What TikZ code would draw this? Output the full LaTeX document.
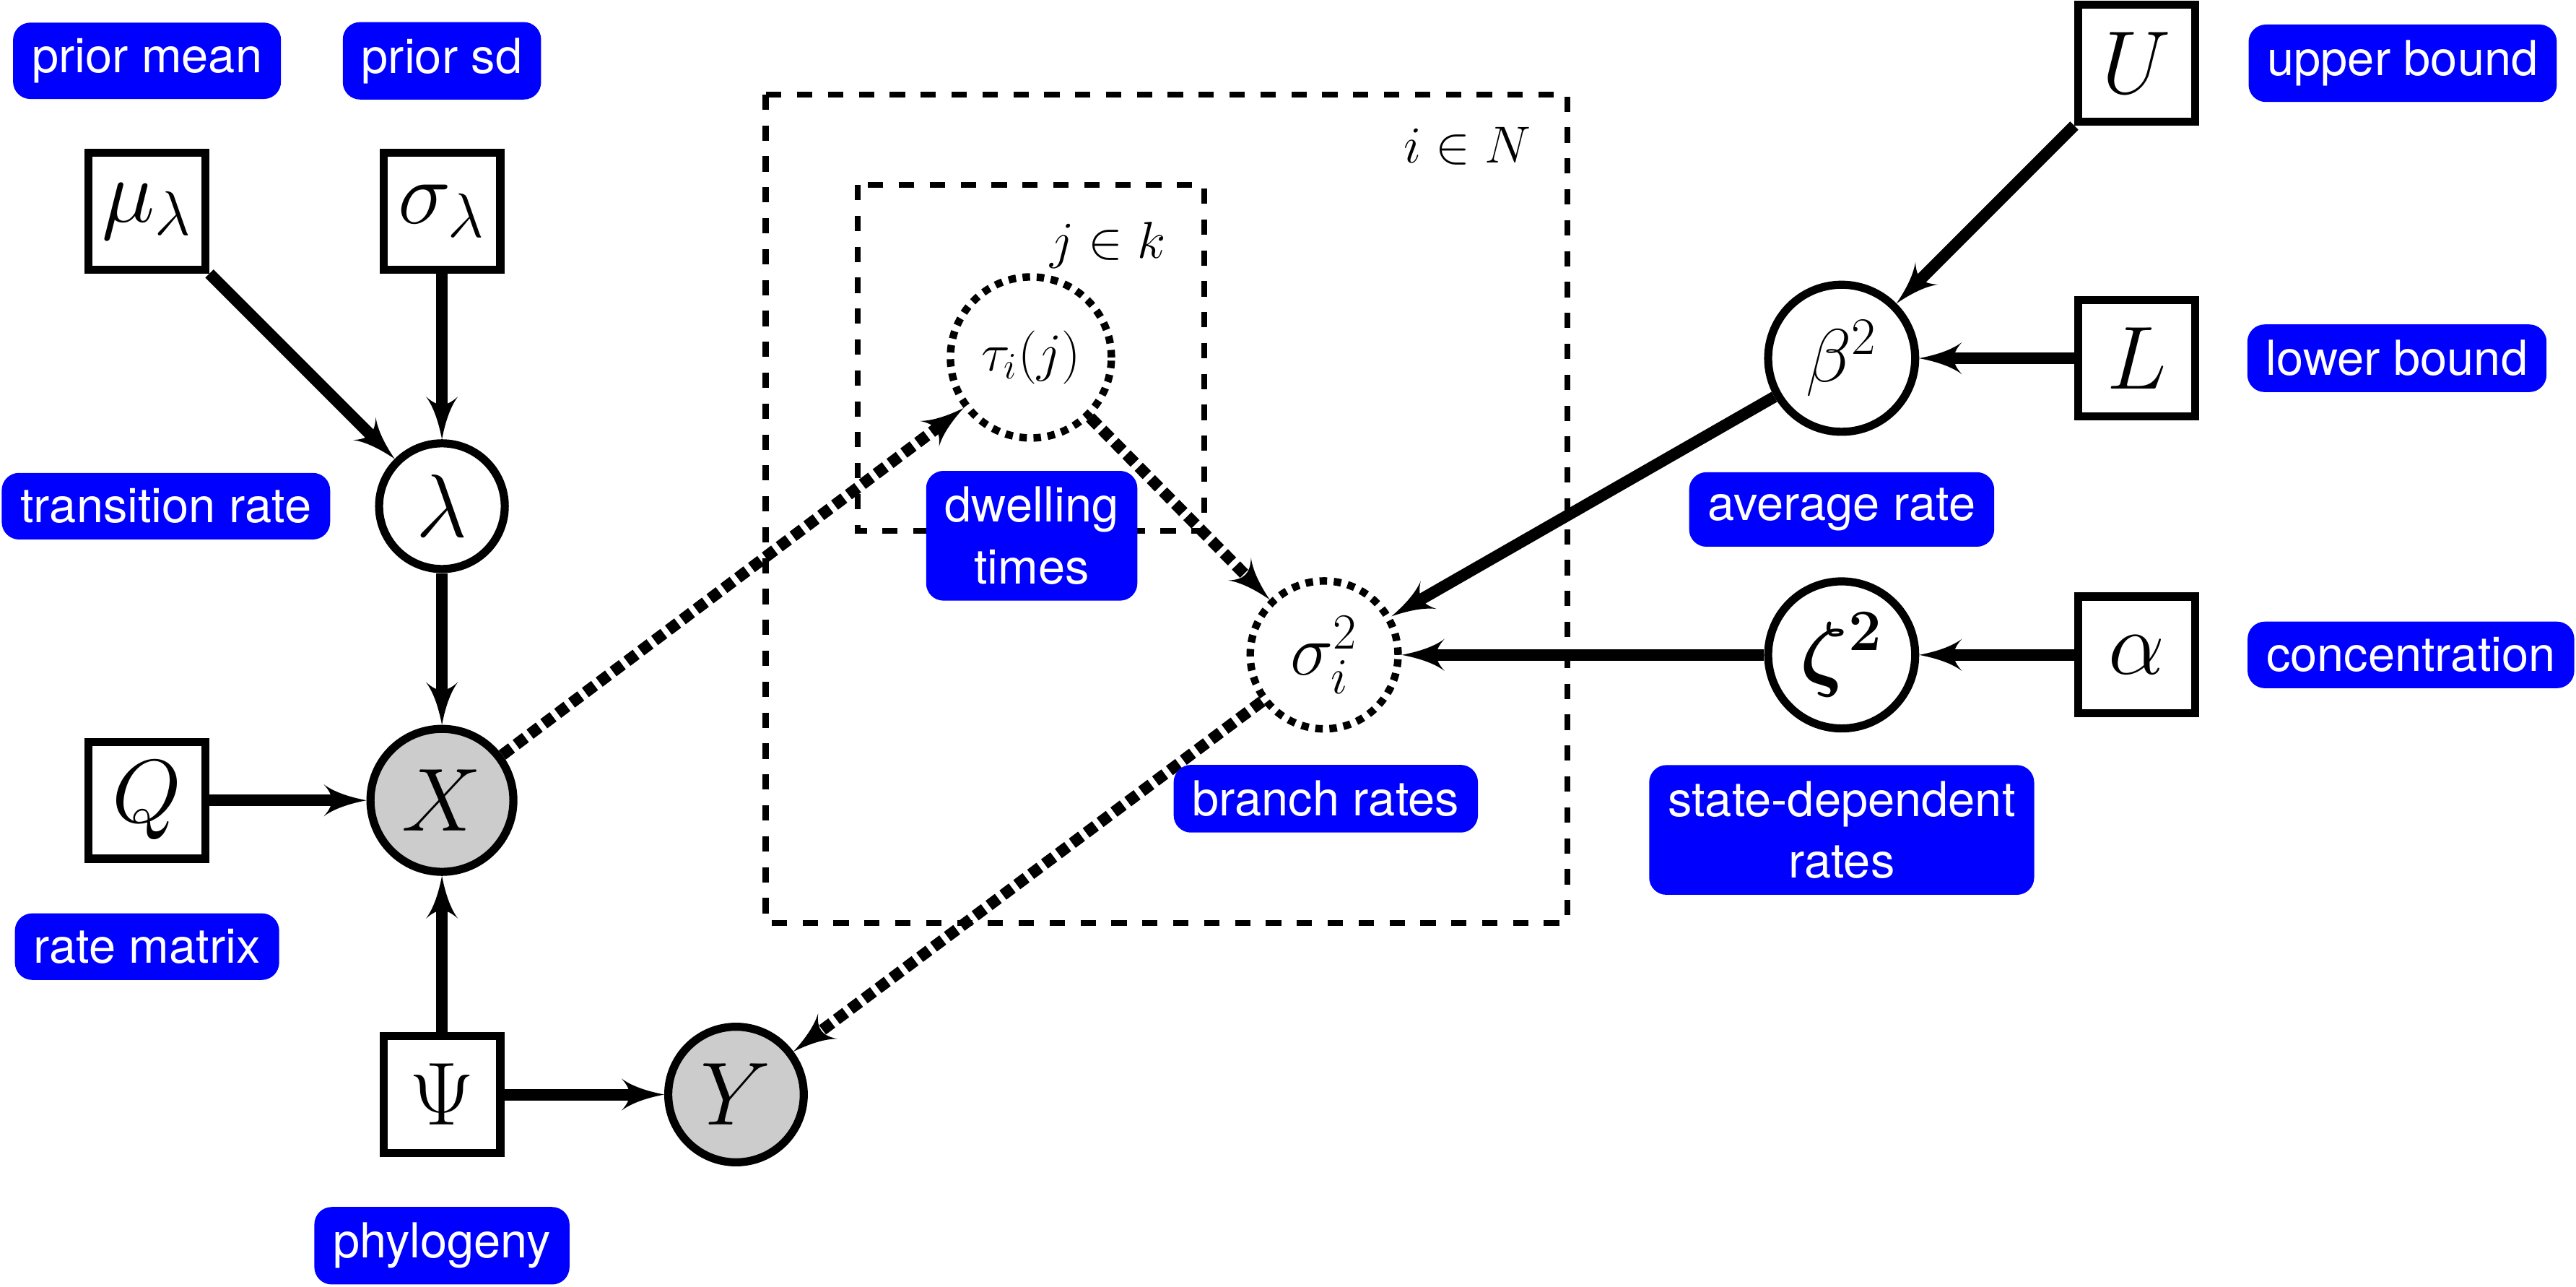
\RequirePackage{fix-cm}
\documentclass[tikz,border=0pt]{standalone}
\usepackage{amsmath}
\usepackage{amssymb}
\usepackage{fontspec}
\newfontfamily\heros{TeX Gyre Heros}
\usetikzlibrary{arrows,positioning}

\newcommand{\lblfont}{\heros\fontsize{16.7}{21.5}\selectfont}
\newcommand{\symsize}{\fontsize{31}{36}\selectfont}

\begin{document}
\begin{tikzpicture}[
			lbl/.style={fill=blue, text=white, rounded corners=6pt, font=\lblfont, inner xsep=6.5pt, inner ysep=5.5pt, align=center},
			param/.style={draw, rectangle, line width=2.8pt, minimum size=1.42cm, inner sep=0pt, font=\symsize},
			rv/.style={draw, circle, line width=2.8pt, inner sep=0pt, font=\symsize},
			obs/.style={rv, fill=black!20},
			det/.style={draw, circle, line width=2.6pt, dash pattern=on 2.6pt off 2.3pt, inner sep=0pt},
			plate/.style={line width=2.1pt, dash pattern=on 5.3pt off 5.4pt},
			edge/.style={-latex', line width=4pt},
			dedge/.style={edge, dash pattern=on 4pt off 2pt}]
			\useasboundingbox (0,0) rectangle (31.36,15.66);
			
			% plates
			\coordinate (oNW) at (9.32,14.51);
			\coordinate (oSE) at (19.08,4.43);
			\coordinate (oNE) at (19.08,14.51);
			\coordinate (iNW) at (10.44,13.41);
			\coordinate (iSE) at (14.66,9.20);
			\coordinate (iNE) at (14.66,13.41);
			\draw[plate] (oNW) rectangle (oSE);
			\draw[plate] (iNW) rectangle (iSE);
			\node[below left=0.39cm and 0.44cm of oNE, inner sep=0pt, font=\fontsize{18}{22}\selectfont] (plN) {$i \in N$};
			\node[below left=0.45cm and 0.46cm of iNE, inner sep=0pt, font=\fontsize{18}{22}\selectfont] (plk) {$j \in k$};
			
			% left part
			\node[param] (mu) at (1.79,13.09) {$\mu_\lambda$};
			\node[param] (sd) at (5.38,13.09) {$\sigma_\lambda$};
			\node[rv, minimum size=1.53cm] (lambda) at (5.38,9.50) {$\lambda$};
			\node[param] (Q) at (1.79,5.92) {$Q$};
			\node[obs, minimum size=1.74cm] (X) at (5.38,5.92) {$X$};
			\node[param] (Psi) at (5.38,2.34) {$\Psi$};
			\node[obs, minimum size=1.65cm] (Y) at (8.96,2.34) {$Y$};
			
			% inside the plates
			\node[det, minimum size=1.96cm, font=\fontsize{18.5}{22}\selectfont] (tau) at (12.55,11.31) {$\tau_i(j)$};
			\node[det, minimum size=1.80cm, font=\fontsize{25}{30}\selectfont] (sigma) at (16.12,7.69) {$\sigma_i^2$};
			
			% right part
			\node[param] (U) at (26.01,14.89) {$U$};
			\node[rv, minimum size=1.79cm, font=\fontsize{26}{30}\selectfont] (beta) at (22.42,11.30) {$\beta^2$};
			\node[param] (L) at (26.01,11.30) {$L$};
			\node[rv, minimum size=1.79cm, font=\fontsize{29}{34}\selectfont] (zeta) at (22.42,7.69) {$\boldsymbol{\zeta^2}$};
			\node[param] (alpha) at (26.01,7.69) {$\alpha$};
			
			\draw[edge] (mu) -- (lambda);
			\draw[edge] (sd) -- (lambda);
			\draw[edge] (lambda) -- (X);
			\draw[edge] (Q) -- (X);
			\draw[edge] (Psi) -- (X);
			\draw[edge] (Psi) -- (Y);
			\draw[dedge] (X) -- (tau);
			\draw[dedge] (tau) -- (sigma);
			\draw[dedge] (sigma) -- (Y);
			\draw[edge] (U) -- (beta);
			\draw[edge] (L) -- (beta);
			\draw[edge] (beta) -- (sigma);
			\draw[edge] (alpha) -- (zeta);
			\draw[edge] (zeta) -- (sigma);
			
			% labels
			\node[lbl] (lmean) at (1.79,14.92) {prior mean};
			\node[lbl] (lsd) at (5.38,14.92) {prior sd};
			\node[lbl] (ltrans) at (2.02,9.50) {transition rate};
			\node[lbl] (lmat) at (1.79,4.14) {rate matrix};
			\node[lbl] (lphy) at (5.38,0.50) {phylogeny};
			\node[lbl] (ldwell) at (12.56,9.14) {dwelling\\times};
			\node[lbl] (lbranch) at (16.14,5.94) {branch rates};
			\node[lbl] (lupper) at (29.25,14.89) {upper bound};
			\node[lbl] (llower) at (29.18,11.30) {lower bound};
			\node[lbl] (lavg) at (22.42,9.46) {average rate};
			\node[lbl] (lconc) at (29.35,7.69) {concentration};
			\node[lbl] (lstate) at (22.42,5.56) {state-dependent\\rates};
			\end{tikzpicture}
\end{document}
